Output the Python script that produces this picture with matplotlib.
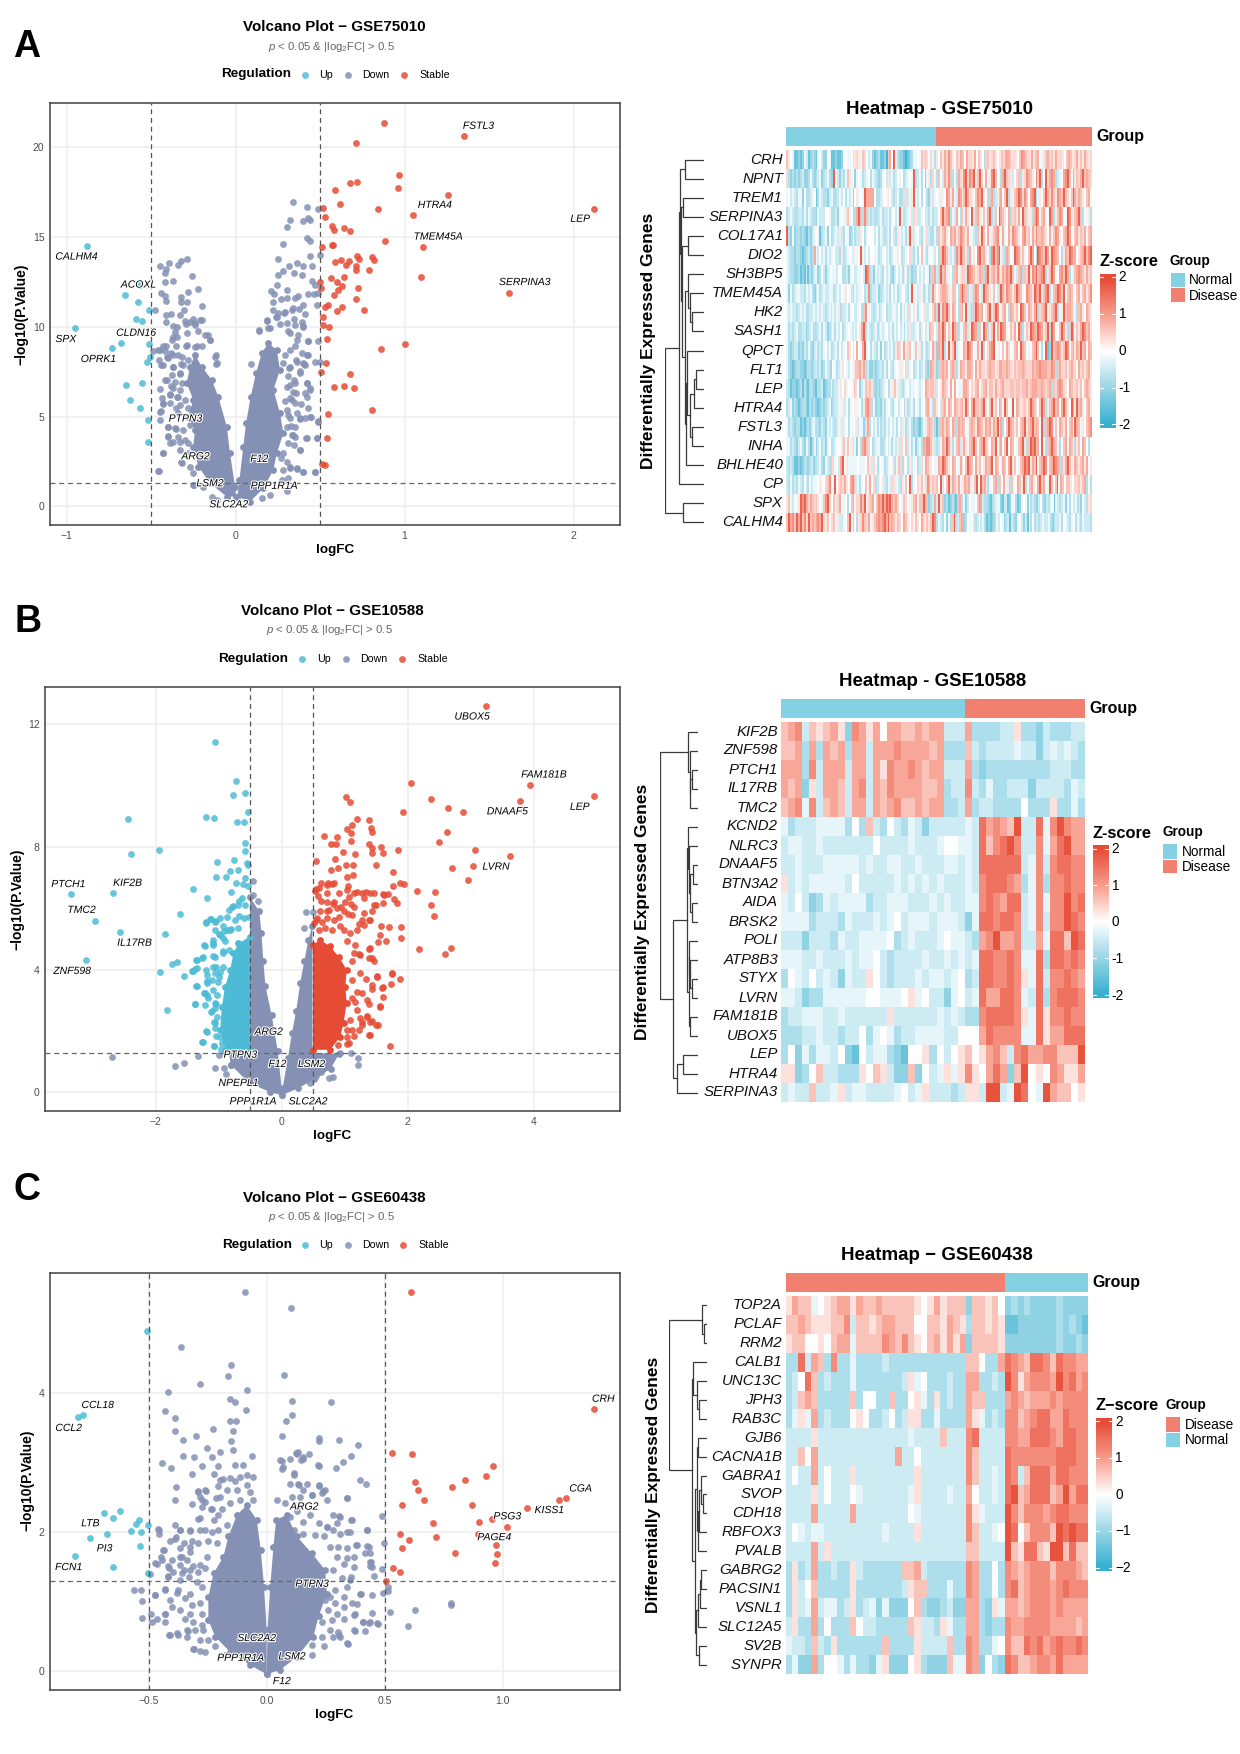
import numpy as np
import matplotlib
matplotlib.use("Agg")
import matplotlib.pyplot as plt
from matplotlib.colors import LinearSegmentedColormap, Normalize
from matplotlib.patches import Rectangle
import matplotlib.patheffects as pe

plt.rcParams['font.family'] = ['Liberation Sans', 'DejaVu Sans']
plt.rcParams['mathtext.fontset'] = 'custom'
plt.rcParams['mathtext.rm'] = 'Liberation Sans'
plt.rcParams['mathtext.it'] = 'Liberation Sans:italic'
plt.rcParams['mathtext.bf'] = 'Liberation Sans:bold'

W, H = 1240, 1754
UP_C, DOWN_C, STABLE_C = '#4DBBD5', '#8491B4', '#E64B35'
NORMAL_C, DISEASE_C = '#84D1E3', '#F18071'
REG_NAMES = ['Up', 'Down', 'Stable']

# ---------- Volcano A ----------
A_STABLE = [(.88,21.35),(1.35,20.6),(.71,20.2),(.97,18.45),(.72,18.05),(.68,18.0),(.96,17.7),(.59,17.6),(1.26,17.35),(.62,16.8),(.52,16.6),(.84,16.55),(2.12,16.55),(1.05,16.2),(.53,16.1),(.57,15.6),(.585,15.4),(.64,15.5),(.68,15.3),(.885,14.75),(.57,14.55),(.575,14.55),(.51,14.45),(1.11,14.45),(.72,13.95),(.73,13.75),(.81,13.85),(.82,13.7),(.59,13.6),(.625,13.7),(.67,13.65),(.655,13.45),(.71,13.4),(.71,13.15),(.79,13.15),(.565,12.7),(.64,12.75),(1.10,12.75),(.50,12.5),(.60,12.5),(.505,12.15),(.63,12.25),(.605,12.05),(.725,12.15),(1.62,11.9),(.585,11.75),(.71,11.55),(.53,11.1),(.545,11.2),(.63,11.1),(.60,10.85),(.76,10.9),(.52,10.55),(.515,10.1),(.555,10.0),(.54,9.3),(1.0,9.05),(.86,8.75),(.535,8.0),(.505,7.5),(.68,7.35),(.58,6.65),(.64,6.7),(.70,6.6),(.805,5.35),(.545,5.15),(.54,3.8),(.51,2.35),(.53,2.3)]
A_UP = [(-.88,14.5),(-.655,11.75),(-.575,11.4),(-.565,12.3),(-.515,10.9),(-.59,10.4),(-.555,10.3),(-.95,9.9),(-.675,9.1),(-.73,8.8),(-.51,9.05),(-.505,8.3),(-.525,8.05),(-.65,6.75),(-.555,6.85),(-.625,5.9),(-.565,5.45),(-.52,4.8),(-.52,3.6)]
A_DOWN = [(-.447,13.4),(-.394,13.55),(-.34,13.45),(-.325,13.65),(-.29,13.75),(-.26,12.8),(-.415,13.0),(-.41,13.2),(-.42,12.5),(-.37,12.55),(-.22,12.1),(-.28,11.95),(-.44,11.9),(-.415,11.7),(-.41,11.45),(-.325,11.65),(-.325,11.35),(-.29,11.4),(-.2,11.15),(-.305,10.95),(-.475,10.95),(-.41,10.65),(-.38,10.7),(-.33,10.65),(-.25,10.45),(-.21,10.35),(-.41,10.25),(-.37,10.05),(-.345,10),(-.295,10.15),(-.27,10.25),(-.24,10.1),(-.36,9.7),(-.37,9.45),(-.285,9.65),(-.22,9.75),(-.18,9.55),(-.15,9.25),(-.41,8.95),(-.355,8.95),(-.295,8.95),(-.24,8.85),(-.2,8.95),(-.45,8.7),(-.415,8.65),(-.49,8.65),(-.38,8.55),(-.34,8.45),(-.455,8.15),(-.40,8.25),(-.115,8.45),(-.115,7.95),(-.44,7.85),(-.37,7.75),(-.32,7.95),(-.415,7.05),(-.33,7.35),(-.45,6.55),(-.38,6.7),(-.39,6.25),(-.43,5.7),(-.345,6.1),(-.44,5.3),(-.355,5.5),(-.45,4.8),(-.40,4.4),(-.35,4.3),(-.40,3.9),(-.39,3.55),(-.43,3.0),(-.33,3.6),(-.455,2.0),(-.32,2.45),(-.245,1.2),
(.34,16.95),(.42,16.65),(.49,16.55),(.325,15.95),(.40,15.85),(.43,16.05),(.44,15.95),(.305,15.55),(.42,14.95),(.44,14.75),(.28,14.6),(.44,13.95),(.50,14.0),(.25,13.75),(.315,13.4),(.365,13.55),(.40,13.35),(.45,13.4),(.28,13.1),(.345,13),(.395,12.9),(.25,12.85),(.245,12.3),(.455,12.55),(.47,12.3),(.21,12.0),(.305,12.05),(.23,11.8),(.37,11.7),(.43,11.8),(.465,11.8),(.485,11.9),(.22,11.35),(.27,11.55),(.305,11.6),(.35,11.6),(.40,11.2),(.48,11.2),(.22,10.95),(.335,10.95),(.375,11.0),(.41,10.7),(.25,10.75),(.285,10.75),(.24,10.55),(.185,10.3),(.345,10.45),(.395,10.25),(.265,10.15),(.40,10),(.19,9.95),(.14,9.75),(.31,9.75),(.37,9.55),(.43,9.2),(.485,9.2),(.35,8.95),(.43,8.45),(.405,7.95),(.5,8.05),(.09,7.95),(.36,8.15),(.38,7.45),(.315,7.7),(.345,7.05),(.425,6.85),(.44,6.5),(.32,6.75),(.355,6.3),(.42,6.1),(.385,5.7),(.335,5.9),(.43,5.5),(.31,5.1),(.445,5),(.38,4.85),(.485,4.75),(.33,4.5),(.35,4.4),(.335,3.95),(.415,3.8),(.48,3.8),(.345,3.4),(.38,3.15),(.27,2.7),(.32,2.2),(.365,2.1),(.40,1.9),(.47,1.9),(.31,1.6),(.305,.85)]
A_FRINGE = [(-.457,8.71),(-.427,8.9),(-.378,9.27),(-.348,9.45),(-.299,10.29),(-.24,10.2),(-.2,10.38),(-.161,9.55),(-.151,9.27),(-.289,8.99),(-.23,8.9),(-.368,8.43),(-.319,8.34),(-.407,8.34),(-.427,7.88),(-.368,7.78),(-.309,7.88),(-.279,8.15),(-.121,8.34),(-.111,7.97),(-.378,7.32),(-.329,7.41),(-.407,7.04),(-.358,6.95),(-.319,6.86),(-.368,6.58),(-.329,6.48),(-.388,6.21),(-.338,6.11),(-.437,6.02),(-.299,5.93),(-.388,5.74),(-.329,5.65),(-.431,5.74),(-.447,5.28),(-.279,5.46),(-.338,5.19),(-.397,4.44),(-.358,4.35),(-.309,4.26),(-.269,4.54),(-.338,3.89),(-.299,3.7),(-.397,3.89),(-.368,3.61),(-.279,3.52),(-.427,3.0),(-.329,3.14),(-.279,2.96),(-.319,2.4),(-.269,2.22),(-.457,2.0),(-.249,1.85),(-.249,1.2),(-.19,1.1),(-.141,.55),(-.107,.37),
(.184,10.38),(.141,9.79),(.204,9.92),(.244,10.56),(.293,10.84),(.342,11.03),(.303,10.2),(.352,10.1),(.401,10.01),(.322,9.64),(.362,9.27),(.431,9.18),(.391,8.53),(.421,8.43),(.322,8.71),(.293,8.43),(.362,8.06),(.401,7.97),(.283,7.97),(.322,7.78),(.411,7.88),(.47,8.06),(.312,7.23),(.382,7.51),(.352,6.86),(.421,6.86),(.441,6.58),(.303,6.67),(.342,6.39),(.411,6.3),(.322,6.02),(.293,5.84),(.352,5.74),(.303,5.37),(.362,5.19),(.411,4.94),(.441,5.0),(.382,4.91),(.49,4.72),(.322,4.91),(.303,4.44),(.342,3.98),(.352,3.89),(.421,3.79),(.48,3.79),(.313,3.52),(.382,3.14),(.283,2.96),(.303,2.5),(.322,2.12),(.362,2.12),(.401,1.94),(.47,1.94),(.283,2.03),(.273,1.47),(.204,.64),(.155,.46)]
A_DENSE = [
 [(-.24,8.43),(-.2,7.78),(-.141,7.04),(-.102,6.11),(-.052,4.44),(-.033,2.96),(-.003,1.1),(.003,.55),(-.052,.55),(-.151,1.29),(-.22,2.22),(-.25,3.33),(-.24,4.26),(-.279,5.0),(-.25,5.93),(-.289,6.86),(-.269,7.78)],
 [(.011,.55),(.023,1.47),(.046,3.33),(.062,4.63),(.09,6.11),(.121,7.41),(.155,8.53),(.194,9.08),(.244,8.71),(.263,7.6),(.224,6.49),(.263,5.19),(.283,4.07),(.244,2.96),(.224,2.03),(.165,1.01),(.086,.27)]]
A_LABELS = [('CALHM4',-.942,13.9),('ACOXL',-.575,12.34),('SPX',-1.005,9.31),('CLDN16',-.589,9.66),('OPRK1',-.812,8.2),('PTPN3',-.297,4.89),('ARG2',-.237,2.79),('LSM2',-.152,1.29),('SLC2A2',-.041,.12),('PPP1R1A',.227,1.15),('F12',.14,2.65),('FSTL3',1.437,21.17),('HTRA4',1.179,16.77),('LEP',2.039,16.0),('TMEM45A',1.198,15.01),('SERPINA3',1.71,12.48)]

# ---------- Volcano B ----------
B_STABLE = [(3.24,12.6),(4.95,9.66),(3.94,10.02),(3.79,9.5),(2.37,9.55),(2.05,10.08),(1.02,9.62),(1.08,9.48),(2.64,9.27),(2.87,9.14),(1.93,9.15),(1.2,8.9),(1.38,8.88),(1.12,8.72),(1.03,8.6),(1.41,8.62),(1.43,8.5),(1.10,8.46),(.875,8.32),(.67,8.37),(2.62,8.49),(2.5,8.15),(.785,8.09),(.86,8.11),(1.1,8.2),(1.39,8.09),(1.57,8.0),(1.44,7.97),(1.44,7.82),(1.85,7.9),(1.61,7.8),(3.06,7.89),(.97,7.85),(1.17,7.78),(.84,7.62),(3.63,7.69),(.54,7.55),(1.02,7.41),(1.13,7.41),(1.49,7.4),(3.04,7.38),(.895,7.32),(.785,7.24),(2.71,7.3),(1.77,7.2),(1.04,7.03),(1.13,7.09),(2.95,6.91),(1.88,6.81),(1.945,6.78),(.73,6.83),(.62,6.81),(.79,6.78),(1.76,6.72),(1.05,6.72),(2.15,6.58),(2.43,6.52),(1.2,6.53),(1.34,6.54),(1.46,6.51),(1.61,6.46),(1.69,6.48),(1.07,6.37),(.55,6.62),(.71,6.51),(.57,6.39),(1.78,6.31),(1.83,6.16),(2.37,6.12),(1.49,6.11),(1.61,6.18),(1.10,6.13),(.62,6.25),(.81,6.13),(.94,6.04),(1.44,5.9),(1.30,5.84),(1.05,5.81),(2.41,5.76),(.71,5.9),(.55,5.61),(.91,5.73),(1.39,5.61),(1.23,5.49),(1.57,5.44),(1.71,5.38),(1.89,5.4),(1.89,5.05),(1.56,5.14),(1.52,4.91),(1.65,4.94),(1.39,4.68),(2.18,4.68),(2.68,4.71),(2.59,4.5),(1.23,4.5),(1.43,4.39),(1.47,4.27),(1.75,3.87),(1.87,3.71),(1.51,3.75),(1.73,3.54),(1.61,3.43),(1.43,3.36),(1.33,3.69),(1.60,3.11),(1.56,2.81),(1.39,2.88),(1.35,2.49),(1.43,2.32),(1.52,2.21),(1.28,2.29),(1.39,1.87),(1.15,1.85),(1.72,1.52),(1.04,1.57),
(.504,5.52),(.557,5.68),(.637,5.57),(.716,5.68),(.822,5.63),(.928,5.41),(.981,5.3),(.584,5.3),(.69,5.35),(.796,5.3),(.61,5.9),(.743,5.95),(.875,6.0),(.981,5.9),(1.113,5.79),(1.272,5.63),(1.405,5.63),(1.3,5.46),(1.193,5.3),(1.087,5.19),(1.034,4.92),(1.166,4.81),(1.405,4.7),(1.14,4.54),(1.246,4.48),(1.378,4.37),(1.114,4.27),(1.246,3.89),(1.114,3.67),(1.51,3.78),(1.75,3.89),(1.436,3.5),(1.595,3.4),(1.193,3.29),(1.272,3.23),(1.114,3.07),(1.352,3.02),(1.564,2.8),(1.166,2.96),(1.193,2.69),(1.352,2.47),(1.246,2.42),(1.405,2.31),(1.5,2.2),(1.087,2.36),(1.272,2.2),(1.114,2.04),(1.22,2.04),(1.394,1.88),(1.034,1.82),(1.06,1.6),(.9,1.55),(1.034,2.04),(.53,6.55),(.584,6.66),(.716,6.77),(.822,6.82),(.901,6.49),(1.034,6.6),(1.14,6.49),(1.272,6.49),(1.405,6.49),(.716,6.22),(.822,6.22),(1.008,6.22),(1.14,6.06),(1.3,6.33),(1.458,6.11),(1.617,6.44)]
B_UP = [(-1.06,11.41),(-.73,10.15),(-.78,9.7),(-.59,9.76),(-.53,9.15),(-1.21,8.99),(-1.07,8.93),(-2.44,8.91),(-.71,8.8),(-.6,8.81),(-.58,8.14),(-.58,7.88),(-1.95,7.9),(-2.4,7.77),(-1.03,7.52),(-.76,7.57),(-.55,7.47),(-.53,7.4),(-.82,7.23),(-.69,7.25),(-1.04,7.03),(-.89,7.03),(-.58,7.0),(-.73,6.81),(-.62,6.8),(-.54,6.74),(-1.41,6.64),(-.8,6.54),(-3.34,6.46),(-2.68,6.51),(-1.19,6.34),(-.68,6.25),(-.78,6.08),(-.84,5.96),(-1.62,5.8),(-.68,5.76),(-1.13,5.65),(-1.2,5.53),(-2.97,5.6),(-1.04,5.58),(-2.57,5.23),(-1.85,5.15),(-.91,5.26),(-.81,5.32),(-1.0,5.15),(-1.23,4.8),(-1.1,4.86),(-.94,5.03),(-3.11,4.32),(-1.75,4.19),(-1.66,4.25),(-1.36,4.33),(-1.26,4.39),(-1.1,4.45),(-.94,4.62),(-1.38,4.02),(-1.41,3.97),(-1.94,3.93),(-1.56,3.78),(-1.2,3.98),(-1.04,4.1),(-1.36,3.48),(-1.18,3.63),(-1.0,3.75),(-1.23,3.25),(-1.19,3.17),(-1.38,2.88),(-1.04,2.88),(-1.82,2.68),(-1.13,2.62),(-1.06,2.76),(-1.07,2.29),(-1.2,1.99),(-1.04,1.85),(-1.26,1.66),(-1.07,1.5),(-.97,1.42),
(-.634,6.33),(-.793,6.06),(-.873,5.73),(-1.138,5.65),(-1.201,5.57),(-1.058,5.57),(-.979,5.68),(-.74,5.63),(-.608,5.68),(-.528,5.73),(-.82,5.3),(-.688,5.35),(-1.058,5.3),(-.979,5.14),(-1.085,4.97),(-1.217,4.76),(-1.085,4.81),(-.899,4.92),(-1.244,4.43),(-1.058,4.43),(-1.349,4.32),(-.926,4.54),(-.846,4.65),(-1.085,4.1),(-1.349,4.05),(-1.427,3.97),(-.926,4.1),(-1.191,3.83),(-1.058,3.89),(-.979,3.94),(-1.111,3.67),(-1.191,3.56),(-1.005,3.61),(-1.349,3.47),(-1.085,3.34),(-1.217,3.23),(-1.032,3.18),(-1.164,3.07),(-1.217,2.85),(-1.376,2.89),(-1.111,2.64),(-1.058,2.91),(-1.032,2.47),(-1.058,2.26),(-1.058,2.09),(-1.191,1.98),(-.979,1.82),(-1.254,1.66),(-1.074,1.52),(-.952,1.6),(-.688,6.11),(-.581,6.11),(-.873,5.3),(-.926,5.41)]
B_DOWN = [(-2.69,1.15),(-1.69,.87),(-1.56,.95),(-1.33,1.19),(-1.06,.8),(-.99,1.22),(-.91,.81),(-.89,.6),(-.81,.9),(-.45,6.89),(-.45,6.45),(-.38,6.23),(.38,5.88),(.49,5.87),(.36,5.36),(1.10,1.28),(.92,1.28),(1.21,1.12),(1.21,.9),(.81,.51),(.75,.47),(.63,.66),(.55,.55),(.45,.31)]
B_UP_DENSE = [[(-.502,1.39),(-.899,1.39),(-.979,2.04),(-.952,2.8),(-.899,3.45),(-.82,3.99),(-.767,4.54),(-.688,4.86),(-.502,5.08)]]
B_STABLE_DENSE = [[(.494,1.39),(.494,4.81),(.61,4.97),(.769,4.76),(.901,4.43),(1.03,4.0),(1.01,3.45),(1.03,2.91),(.981,2.26),(.928,1.82),(.769,1.39)]]
B_DENSE = [
 [(-.506,6.37),(-.357,5.9),(-.324,5.2),(-.292,4.27),(-.26,3.46),(-.162,2.53),(-.065,1.36),(0,.08),(0,-.09),(-.195,.02),(-.519,.31),(-.81,.9),(-.843,1.36),(-.506,1.36)],
 [(.013,.14),(.097,1.13),(.162,1.94),(.227,2.64),(.292,3.57),(.357,4.27),(.422,4.97),(.486,5.44),(.486,1.3),(.908,1.25),(.778,.78),(.519,.43),(.259,.14),(0,-.09)]]
B_LABELS = [('UBOX5',3.02,12.25),('FAM181B',4.16,10.36),('DNAAF5',3.58,9.16),('LEP',4.73,9.31),('LVRN',3.4,7.36),('PTCH1',-3.39,6.79),('KIF2B',-2.45,6.83),('TMC2',-3.18,5.95),('IL17RB',-2.34,4.88),('ZNF598',-3.33,3.96),('ARG2',-.21,1.98),('PTPN3',-.66,1.23),('F12',-.07,.93),('LSM2',.47,.93),('NPEPL1',-.69,.31),('PPP1R1A',-.46,-.29),('SLC2A2',.415,-.29)]

# ---------- Volcano C ----------
C_STABLE = [(.61,5.45),(.53,3.14),(.615,3.12),(.96,2.95),(.93,2.81),(.84,2.75),(.63,2.73),(.785,2.65),(.64,2.61),(.668,2.47),(1.237,2.46),(1.27,2.49),(1.386,3.77),(.575,2.39),(.872,2.39),(1.104,2.35),(.953,2.19),(.9,2.15),(.706,2.13),(1.02,2.08),(.565,1.97),(.716,1.93),(.604,1.89),(.895,1.97),(.97,1.82),(.575,1.78),(.798,1.7),(.978,1.69),(.968,1.56),(.535,1.49),(.564,1.43),(.507,1.3)]
C_UP = [(-.798,3.66),(-.777,3.68),(-.509,4.89),(-.69,2.28),(-.621,2.31),(-.649,2.2),(-.542,2.18),(-.555,2.12),(-.503,2.11),(-.574,2.02),(-.675,1.98),(-.533,2.01),(-.747,1.92),(-.538,1.8),(-.81,1.66),(-.649,1.5),(-.503,1.42)]
C_DOWN = [(-.093,5.46),(.102,5.22),(-.363,4.66),(-.152,4.41),(.074,4.26),(-.163,4.25),(-.282,4.13),(-.083,4.04),(-.417,4.02),(-.157,3.91),(-.135,3.87),(.109,3.89),(.273,3.87),(-.087,3.76),(-.429,3.74),(.106,3.69),(-.388,3.64),(-.154,3.6),(-.13,3.6),(.08,3.6),(-.228,3.48),(-.389,3.45),(-.144,3.45),(-.298,3.38),(.066,3.38),(-.353,3.33),(.22,3.35),(.22,3.32),(.306,3.33),(-.152,3.32),(.386,3.26),(-.253,3.21),(-.144,3.19),(.125,3.14),(.133,3.15),(.18,3.13),(-.196,3.15),(.358,3.1),(-.353,3.1),(-.062,3.1),(.154,3.09),(-.23,3.08),(-.306,3.08),(.144,3.04),(.324,3.01),(-.443,2.99),(-.135,2.97),(-.1,2.97),(-.273,2.96),(-.204,2.95),(-.405,2.92),(.218,2.97),(.294,2.93),(.099,3.05),(.067,3.02),(.064,2.91),(-.315,2.84),(-.225,2.84),(.116,2.83),(.396,2.75),(.422,2.69),(-.382,2.65),(-.187,2.77),(-.135,2.74),(-.083,2.82),(-.057,2.8),(.133,2.69),(.22,2.66),(.237,2.59),(-.29,2.59),(-.256,2.59),(-.389,2.46),(.339,2.5),(-.273,2.46),(-.317,2.41),(.194,2.54),(.488,2.23),(-.234,2.33),(.306,2.24),(.358,2.18),(-.282,2.2),(-.389,2.11),(-.462,2.05),(-.458,1.97),(-.325,2.02),(.427,2.04),(.254,2.07),(.298,2.13),(.341,2.01),(-.369,2.04),(-.386,1.93),(.497,1.85),(.379,1.82),(.427,1.8),(-.369,1.77),(-.433,1.74),(-.325,1.71),(.436,1.7),(-.446,1.64),(-.369,1.64),(-.472,1.56),(.441,1.58),(.436,1.52),(-.412,1.48),(-.351,1.46),(.49,1.47),(-.495,1.4),(-.42,1.37),(.453,1.37),(.358,1.36),(-.564,1.17),(-.531,1.17),(-.472,1.1),(-.429,1.18),(-.529,1.01),(-.381,1.13),(.514,1.21),(.493,1.13),(.514,1.15),(.401,1.11),(.384,.97),(.448,1.1),(.78,.99),(.78,.955),(.63,.88),(.522,.85),(.446,.84),(-.528,.765),(-.49,.82),(-.486,.71),(-.464,.75),(-.431,.83),(-.431,.71),(-.412,.53),(-.377,.53),(-.334,.585),(-.308,.32),(-.282,.30),(.375,.82),(.407,.71),(.434,.69),(.471,.68),(.599,.66),(.375,.585),(.415,.585),(.341,.405),(.194,.235),(.306,.53)]
C_FRINGE = [(-.197,2.75),(-.155,2.78),(-.204,2.66),(-.112,2.8),(-.084,2.68),(-.289,2.58),(-.26,2.61),(-.282,2.51),(-.214,2.49),(-.169,2.61),(-.126,2.61),(-.07,2.58),(-.26,2.44),(-.197,2.51),(-.155,2.42),(-.275,2.37),(-.232,2.34),(-.19,2.34),(-.112,2.46),(-.056,2.46),(-.204,2.25),(-.225,2.18),(-.289,2.19),(-.367,2.04),(-.324,2.04),(-.282,2.04),(-.26,2.03),(-.232,2.01),(-.204,2.03),(-.169,2.1),(-.458,2.04),(-.388,1.91),(-.409,1.87),(-.352,1.84),(-.317,1.87),(-.289,1.84),(-.247,1.87),(-.211,1.84),(-.324,1.79),(-.437,1.74),(-.402,1.6),(-.444,1.6),(-.36,1.65),(-.338,1.6),(-.254,1.65),(-.465,1.55),(-.416,1.51),(-.367,1.53),(-.31,1.51),(-.282,1.53),(-.395,1.43),(-.36,1.41),(-.324,1.46),(-.289,1.43),(-.26,1.48),(-.416,1.36),(-.367,1.31),(-.331,1.36),(-.296,1.29),(-.473,1.1),(-.43,1.17),(-.374,1.17),(-.324,1.12),(-.275,1.22),(-.409,1.03),(-.345,1.05),(-.317,.95),(-.282,.98),(-.402,.93),(-.367,.88),(-.324,.83),(-.275,.83),(-.43,.83),(-.345,.76),(-.31,.71),(-.275,.67),(-.338,.6),(-.303,.6),(-.268,.6),(-.409,.52),(-.381,.55),(-.338,.5),(-.282,.45),(-.247,.45),(-.31,.32),(-.261,.28),(-.218,.36),(-.176,.24),
(.057,3.04),(.071,2.94),(.114,2.85),(.128,3.13),(.156,3.06),(.22,2.96),(.097,2.7),(.135,2.68),(.17,2.7),(.22,2.68),(.248,2.61),(.156,2.61),(.191,2.54),(.234,2.56),(.255,2.46),(.107,2.51),(.142,2.51),(.043,2.46),(.078,2.42),(.34,2.49),(.128,2.3),(.184,2.25),(.1,2.22),(.283,2.25),(.312,2.22),(.361,2.18),(.156,2.15),(.22,2.13),(.255,2.08),(.283,2.03),(.312,1.98),(.354,2.01),(.427,2.04),(.114,2.03),(.156,1.98),(.206,1.96),(.241,1.94),(.269,1.79),(.304,1.79),(.34,1.77),(.382,1.82),(.432,1.79),(.418,1.7),(.297,1.65),(.34,1.63),(.368,1.65),(.439,1.58),(.446,1.5),(.326,1.55),(.368,1.5),(.283,1.46),(.319,1.34),(.354,1.31),(.34,1.22),(.29,1.17),(.269,1.07),(.326,1.07),(.396,1.12),(.248,1.03),(.29,.98),(.326,.93),(.361,.98),(.262,.88),(.297,.83),(.368,.81),(.41,.71),(.234,.71),(.276,.74),(.326,.76),(.269,.6),(.304,.57),(.371,.6),(.439,.71),(.467,.69),(.283,.5),(.312,.5),(.234,.5),(.191,.38),(.241,.36),(.343,.4)]
C_DENSE = [
 [(0,.6),(-.011,1.22),(-.025,1.75),(-.042,2.18),(-.084,2.39),(-.126,2.25),(-.162,1.94),(-.183,1.65),(-.225,1.41),(-.247,1.07),(-.247,.74),(-.218,.5),(-.155,.28),(-.07,.09),(0,-.04)],
 [(.004,.6),(.015,1.22),(.029,1.79),(.04,2.18),(.085,2.25),(.128,1.94),(.191,1.7),(.248,1.46),(.255,1.12),(.22,.79),(.198,.5),(.128,.21),(.057,.02),(0,-.04)]]
C_LABELS = [('CRH',1.426,3.92),('CGA',1.33,2.63),('KISS1',1.197,2.32),('PSG3',1.019,2.23),('PAGE4',.964,1.93),('CCL18',-.716,3.83),('CCL2',-.839,3.5),('LTB',-.747,2.13),('PI3',-.687,1.77),('FCN1',-.839,1.5),('ARG2',.159,2.37),('PTPN3',.192,1.26),('SLC2A2',-.043,.48),('PPP1R1A',-.111,.195),('LSM2',.107,.216),('F12',.064,-.139)]

# ---------- Heatmaps: one letter per cell, the level tables give the z-score ----------
LEVELS = dict(zip('abcdefghijklm', [-2,-1.5,-1.1,-.8,-.5,-.25,0,.3,.6,.9,1.2,1.5,1.9]))
A_LEVELS = dict(zip('abcdefghijklm', [-1.9,-1.45,-1.05,-.75,-.5,-.2,0,.25,.42,.6,.85,1.15,1.7]))

A_GENES = ['CRH','NPNT','TREM1','SERPINA3','COL17A1','DIO2','SH3BP5','TMEM45A','HK2','SASH1','QPCT','FLT1','LEP','HTRA4','FSTL3','INHA','BHLHE40','CP','SPX','CALHM4']
A_COUNTS = (77, 80)
A_NORMAL = ["jhgfbbcbcfebcdcbfgeccgfbbcbbcggffgihihfjigefcbcdbbcajkgmfdccbabcdffgfjijigifd",
"idcdcdcdeccdfdcdefcdefdcmfecedfjhfgcfgfdefgdfedcdfgehefdegfgdefgfmdefdgkfhdif",
"fgefedffcgddefgbdfeddcefddefegdfefcghfgfmkkkkgddefgfhgedefddeiefhmfegdgfdchef",
"defeddeedfdfeddcfeeeggfddecfgfhjfgjdkmjdljededdefdeefdfgefmfdefgeiheefgeedfde",
"mdcfcddcdcbdcefgfbdefcgdefehedgfcdgdeehgdfgggegdfedefdgedhfefdhmhefgedfhieddf",
"feddcddcbcdecdkfegefdfefgeedhdefgfeffgmfegeggffdefgefdegfhgdefgiedfdgjfhdfgfe",
"feddccdbcbebdcefcdgecefgffeggddecfgeeffgemldecfefedgefdcegefdhfdecddgefegfbdjk",
"fcfdeffeedfefdcefdefeeffdefegfhgfedfeffgdeldeefcdefefdgefdefgedfmffehfdefdeli",
"fefeedefefddeefefefedefifefhdeefdfgeefgdjlgfedefdefgdeeffegdfefieghfdfgheefgik",
"fdedefddeecdefddefdfecdefdfegdefgfefeghkmdfedefdefefgefdfegefdfeheefgdhgefkjig",
"fdcdeecdcedfdcefdedfgefdefdgefgjhgegkgfkmfgdfedfcgdefefdhjigkhijgfjfhdfedegki",
"fdcbcddccbcddcdedecdfedcgfdefhgfegfhjjkikdeccdcdeedfdgedfgfhfgiefgdefdefdcjkji",
"edbccbcdbdcbddcbddebcddfdeefhgifggfjigcefjijhdcdcdefgdfhjfhedefgeffgfefgkjijji",
"defcdcbcddcbdcdcbcdcdefcdeeffhegdfghffgdhkljdfcddcedfgedfgefgdhdefdgfdfgjkifdj",
"fdedcddbcbcdcefddcedcfegedefhefgdgfgheffcikdgefdfdedfegefdgehfdefdcdcbdfhjkjid",
"ffdedcefdcfdbdfcefdecfgdefgghjfjfhefcgdkljigdeffddegefdfeheigjefdfcefdkjlljhe",
"ededbbcbcddcdecdefdcfedjifgekmghfffffgfffgjheigdfgfdefghdfjidfgdhefgdeifkjihgf",
"edfdedfedgedfeffghfgijlhfmgijikhgkljefdfgjfkgidefghedfeihfedhfjgmdfgihjfilkhji",
"hjfegfhmlmkikjijhgfjlmigjhikgfgdgjkfiiljmfijkgjlkmkmlmkjkigfjigfhjkfjjmkjcdek",
"jmkljmkmjlimjkjklkmihjgijfheefgjmfjgdhiljikfhjklklmkmjkjhjigkjhgifjhgkigjhjml"]
A_DISEASE = ["hgjhkiljhgjikjgkiihkgjhgdijhijhghjikkjhihgjlkjihkhjkgfhjkijhkhiihgjkjhikhjhkihi",
"djgekiljdfdkihlmilkmhjmigkfhlmjgfdkmjihegijdhilkjhgljmdgmiklkdefgklmjgkhjikmjkji",
"gfhfglkhkfelkhjmkihgjlkmhgdjkdehjkgjmdhfjkmliljgklmdfhgjmkiljhlkjmjifjmkikjhgjkf",
"egjmjkldfekgdjfkhgmejkhfjfkmdejgmkjhgkdijhkfmjifhdkmlgjkfgmkdhjlkgfmlhfjkmjdgfhd",
"djhjkhgkjkhjlkjhkgfedjhmjgkfhjklhgkfgkhlkjhgklijfkiljjkjhgkfjlkhgjkmkfgjkhjikfjk",
"gdjmljhefdljmkjhdkfhglmjkhgdlmjlmfedkjgfmlkhjfgjmkgdmlkjmkhmlkjgdhkjmldkghjkmjlm",
"edmjkhfgdjkfhjiemlkjhikjdkmhjkiljhkjlkmjfejkdjimhlkmjklmdhjmkfgkljmkdfhjklkjhkij",
"ghjkkjhfjjgdkmkjdhejlkfemkjhfjgedmkilkjhjmkjfglkjhmlkmhjlmdfjkmljmgjkjhgjkfjkhjl",
"dmelkmjfkjgdjkfmhedjmljkghkmhjmlgfjkgdkjhjgmljfkjhkmdijkmfhjkmdfhmjkkjhfdjkhgkjh",
"ekjmkgjhmkjdfgjkehmlkdjgmkdhjmgkhmlkfgjhkgmkdfjhmlkjmlkhjmdmkfgjmkhdjmkfjhkmljkh",
"ckjmdfmhjmefggkjmljgfkhmdgiklmgfhgjgkigfjkgmkjgfgjkmjgdgmbcmjklkhjmlfjkhkjmjkgkj",
"cdjkjkgjkjdfkjjhkkjgkhkiihjkjjhikkjjkjihjijjkjiiikjkklkkkjjlkdjkiijhjkiigkijhjkh",
"eghkjifkgkgffhkkjgihjkgijkhjjhkihjkiiijjijjijjkijkkkjjkjijkdjiklkihgkjiijhjgjkjh",
"hgejkfkjgkjijkhmjgkmjjikmhgjmhjgkjfmjgfmgkjhijhjmkjhgjmkdhjkmjkgkmjhgmkhmjkhgjkh",
"bdjkikjgkjdkjkjgfjkjhlkjhkjkhkjmhkdgjmkjhjgjkmhjkmjkjgmdjkmlfjgkjhkgjkgmkjfhgjkl",
"defkjmkhdfjkehkhfjkmjgjkmjhgkjmgjkgjmgkjgfjkmhdjmlmjkgmfdjkmkjfdgjkfkjfdhjgkjgdg",
"fkjmljhgkjgfkhgjmkjgkhjghkjkmgkjgfkjgkmhjgfjkmlmhkjmgjkmlgjkmlkdjhkmjhgkjhjkhkgh",
"jgmegjmhkjhkfhkjkhfjmgmjkhdfgjkdjgkfhdjfgkjhmdfjkhgkmjkgfmjgjmfkjgjjhgiijhjkdgd",
"emhjcdbcdcbjkdfcegffgjlkeddcbdeffcbeebcgfdbcfgfcfdedcegdcedfgbfedefcfdgefdecgedhi",
"dfedgcfdjmdejkcdgfgedegefdbcbcdfegfcdebedcfgecebfdgdedefeefdcdeefdgfedfgdfedfeeed"]

B_GENES = ['KIF2B','ZNF598','PTCH1','IL17RB','TMC2','KCND2','NLRC3','DNAAF5','BTN3A2','AIDA','BRSK2','POLI','ATP8B3','STYX','LVRN','FAM181B','UBOX5','LEP','HTRA4','SERPINA3']
B_COUNTS = (26, 17)
B_ROWS = ["ijkeihijhckjhjgjjiijijjeee jddddeehddcedddee",
"iijdjdjijdjjejjjkjjjjijddd iedeeeefeecefefed",
"jjjdkejjjejjejhkjjkjijjeee jdcdddddddddeeedd",
"jijchejjiejkejikjjjjiijdee kedfddeeeceeeedfe",
"ijkfkeijiejjejijkiijijjdde jdeeddddgdddhddfd",
"fdeeeffffdgdiedgedfeceeeee fe ljkjim eelfkmkjj",
"effeefeeeeeeegeeeefeeefggf fe liklmk eekfjlmjj",
"eefeeefffffefeeffeefeeeffe fe llllll efkekllkk",
"hefefffffegeeeeefefefefeee fe klllkj dfkdkklkk",
"fegecdfeffffdeefffeeefefee ff klkjll efkfkkmkl",
"ffffdeeedfeeefefgefffefffe cf llkllk efkekkmlk",
"eeeceeedfeeffffgdefeeefgff ed jkmjjk eejfllim l",
"fffeefeeefeffgedeeeefeefef ef llkklk ffldllklk",
"dgfegefecfeehgedeeefeffefg de llkklk hflekklkj",
"ffecddffffffggfffghfgeecfg ef ljjllk feldklllk",
"deefffeefeeeeeeheeeeeefefe dd kllllk hflhkklkk",
"dddeefeedeegdfgfdeeffffeeg gg jlkkkk fflhjjlll",
"dgcfdffegcbgeffdcbgghdgegh ig hjkiek ljjkkiiim",
"hhcdgieedddhgiheccicgefhfh kh gjljci mghgkjhhj",
"efeeieefheffeeeefgefheeede hh emmefm lgfmjiigh"]

C_GENES = ['TOP2A','PCLAF','RRM2','CALB1','UNC13C','JPH3','RAB3C','GJB6','CACNA1B','GABRA1','SVOP','CDH18','RBFOX3','PVALB','GABRG2','PACSIN1','VSNL1','SLC12A5','SV2B','SYNPR']
C_COUNTS = (34, 13)
C_ROWS = ["hjiifghijjhjiijiiiiihghjhiiiciihig cdcdccccdcccc",
"iijihhhiikeiihijjiiiggiihjihdiihih bbccccccdcdcb",
"hiigghgijjfiiiikjikihgijhjhjciiiih ccccccccdccdc",
"ddlejidkddfddddedddddddddddd iigddj lkjillkilkkjj",
"deglidedddfdddddddehfgdddedd jjdded mkhjkkkjmkljk",
"deijidddddidggddiddghfdhdedd jiiddd jkjijjjkjkkkk",
"dfhfjdedddghgddegdehhddfdddd jhfded kkijklljjlkkk",
"eeeeheeeeeeeeeeeeeefeeeeieee kleeee kkjjlllkjllkk",
"eeigjeeeeeeeeeeeejeegeeeeeee kieeee lkkkkkkklllkk",
"egeejegeeeheeeeeeeeeheeeeeee kieefe lkeillljllkkk",
"eeeehegeeegfeeeeeeefheeeefee jgeefe lmijlllijmjll",
"eeeejeeeeejeeeeeeeegfeeeeeee khfeee mkikkkjkllkkk",
"egfeffeeeeeeeeefeeeeheeeeeee kieefg mlgikkkimlmll",
"eeeejeheeeeeeeeeeeeeeeeeeeee iieeee mihllihmmilii",
"dhdejddeddheddddddiijedddddd kjddgd kjijkkkikkkji",
"dhegidddddhdddddddehiidddfdd kjddgd klijkkkjklkkk",
"dhefjeffdehdefcfcccgidccdecc jjdchf jjijkkkjkjjjj",
"ehddjdgdddigeedddddiheedhfdd jjdcdd kjjkkkkjjjjij",
"feediedhdddddddiddddheeeeidd kjddfg kiilkljklkklk",
"dfccjdggfdfddcfhcccghdccciff kjcgdc lkiijkkjljjjj"]

DEND_A = (1.0,(.65,(.62,(.48,0,1),(.60,(.53,2,3),(.57,(.42,4,5),(.50,(.40,6,(.37,7,(.30,8,9))),(.45,(.43,10,(.35,(.25,(.20,11,12),13),(.30,14,15))),16))))),17),(.53,18,19))
DEND_B = (1.0,(.27,0,(.23,1,(.21,(.16,2,3),4))),(.65,(.30,(.28,5,(.24,6,(.21,(.13,7,8),(.16,9,10)))),(.24,(.24,11,(.21,12,(.18,13,14))),(.23,15,16))),(.55,(.40,17,18),19)))
DEND_C = (1.0,(.15,0,(.09,1,2)),(.40,(.37,3,(.26,4,(.22,5,6))),(.32,(.28,(.25,7,8),(.24,(.22,(.16,9,(.12,10,11)),12),13)),(.30,(.25,(.20,(.16,14,15),16),17),(.21,18,19)))))

CB_TICKS = [2, 1, 0, -1, -2]
cmap = LinearSegmentedColormap.from_list('z', ['#35B0CF', '#9AD6E6', '#FFFFFF', '#F79C8C', '#E64B35'])
norm = Normalize(-2, 2)

fig = plt.figure(figsize=(W/100, H/100), dpi=100, facecolor='white')
def pax(l, t, r, b, **kw):
    return fig.add_axes([l/W, 1-b/H, (r-l)/W, (b-t)/H], **kw)
ov = pax(0, 0, W, H, zorder=20)
ov.set_xlim(0, W); ov.set_ylim(H, 0); ov.axis('off'); ov.patch.set_alpha(0)

def arr(p):
    a = np.array(p, float); return a[:, 0], a[:, 1]

def volcano(rect, xlim, ylim, xt, yt, xtl, title, tpos, spos, leg, labels, xlab, ylab,
            down, up, stable, dense, updense=(), stdense=()):
    ax = pax(*rect)
    ax.set_xlim(*xlim); ax.set_ylim(*ylim)
    ax.set_xticks(xt); ax.set_xticklabels(xtl); ax.set_yticks(yt)
    ax.grid(True, color='#EDEDED', lw=1.1); ax.set_axisbelow(True)
    ax.tick_params(length=0, labelsize=7.5, labelcolor='#4D4D4D', pad=4)
    for s in ax.spines.values():
        s.set_color('#404040'); s.set_linewidth(1.1)
    kw = dict(s=24, linewidths=0, clip_on=True)
    for poly in dense:
        x, y = arr(poly)
        ax.fill(x, y, color=DOWN_C, lw=0, zorder=2)
        ax.scatter(x, y, color=DOWN_C, zorder=2, **kw)
    x, y = arr(down); ax.scatter(x, y, color=DOWN_C, alpha=.85, zorder=2, **kw)
    for poly in updense:
        x, y = arr(poly); ax.fill(x, y, color=UP_C, lw=0, zorder=3); ax.scatter(x, y, color=UP_C, zorder=3, **kw)
    for poly in stdense:
        x, y = arr(poly); ax.fill(x, y, color=STABLE_C, lw=0, zorder=3); ax.scatter(x, y, color=STABLE_C, zorder=3, **kw)
    x, y = arr(up); ax.scatter(x, y, color=UP_C, alpha=.85, zorder=3, **kw)
    x, y = arr(stable); ax.scatter(x, y, color=STABLE_C, alpha=.85, zorder=3, **kw)
    for v in (-.5, .5):
        ax.axvline(v, color='#555555', lw=.9, ls=(0, (4, 3)), zorder=4)
    ax.axhline(1.3, color='#666666', lw=.9, ls=(0, (4, 3)), zorder=4)
    for name, lx, ly in labels:
        ax.text(lx, ly, name, fontsize=7.5, style='italic', ha='center', va='center', zorder=6,
                path_effects=[pe.withStroke(linewidth=1.6, foreground='white')])
    ov.text(*tpos, title, fontsize=10.9, fontweight='bold', ha='center', va='center')
    ov.text(*spos, r'$\mathit{p}$ < 0.05 & |log$_{2}$FC| > 0.5', fontsize=8.2, color='#666666', ha='center', va='center')
    y0, rx, pts, txs = leg
    ov.text(rx, y0, 'Regulation', fontsize=9.7, fontweight='bold', ha='left', va='center')
    for px, tx, c, n in zip(pts, txs, [UP_C, DOWN_C, STABLE_C], REG_NAMES):
        ov.scatter([px], [y0], s=24, color=c, alpha=.85, linewidths=0)
        ov.text(tx, y0, n, fontsize=7.7, ha='left', va='center')
    ov.set_xlim(0, W); ov.set_ylim(H, 0)
    ov.text(*xlab, 'logFC', fontsize=9.7, fontweight='bold', ha='center', va='center')
    ov.text(*ylab, '\u2212log10(P.Value)', fontsize=10, fontweight='bold', ha='center', va='center', rotation=90)

def draw_tree(ax, node):
    if not isinstance(node, tuple):
        return 0.0, node + .5
    h, a, b = node
    ha, ya = draw_tree(ax, a); hb, yb = draw_tree(ax, b)
    ax.plot([ha, h, h, hb], [ya, ya, yb, yb], color='#3A3A3A', lw=.9, solid_joinstyle='miter')
    return h, (ya + yb) / 2

def cells(ax, rows, c0, c1, levels):
    for i, row in enumerate(rows):
        row = row.replace(' ', '')
        vals = [levels[ch] for ch in row]
        ax.pcolormesh(np.linspace(c0, c1, len(vals) + 1), [i, i + 1], [vals], cmap=cmap, norm=norm,
                      linewidth=0, antialiased=False, rasterized=True)

def heatmap(genes, sections, spans, levels, order, counts, body, annot, tree, dend, title, tpos, grp, lab_x, ylab,
            zt, bar, ticks_y, tick_x, lg_title, lg_boxes, lg_text, zname, minus):
    l, t, r, b = body
    ncol = sum(counts)
    ax = pax(l, t, r, b); ax.set_xlim(0, ncol); ax.set_ylim(len(genes), 0); ax.axis('off')
    for rows, (c0, c1) in zip(sections, spans):
        cells(ax, rows, c0, c1, levels)
    an = pax(l, annot[0], r, annot[1]); an.set_xlim(0, ncol); an.set_ylim(0, 1); an.axis('off')
    pos = 0
    for n, nm in zip(counts, order):
        an.barh(.5, n, left=pos, height=1, color=NORMAL_C if nm == 'Normal' else DISEASE_C, lw=0); pos += n
    d = pax(dend[0], t, dend[1], b); d.set_xlim(1.0, 0); d.set_ylim(len(genes), 0); d.axis('off')
    d.patch.set_alpha(0)
    draw_tree(d, tree)
    d.set_xlim(1.0, 0); d.set_ylim(len(genes), 0)
    rh = (b - t) / len(genes)
    for i, g in enumerate(genes):
        ov.text(lab_x, t + (i + .5) * rh, g, fontsize=10.8, style='italic', ha='right', va='center', color='#111111')
    ov.text(*tpos, title, fontsize=13.5, fontweight='bold', ha='center', va='center')
    ov.text(*grp, 'Group', fontsize=11.5, fontweight='bold', ha='left', va='center')
    ov.text(*ylab, 'Differentially Expressed Genes', fontsize=12.5, fontweight='bold', ha='center', va='center', rotation=90)
    ov.text(*zt, zname, fontsize=11.8, fontweight='bold', ha='left', va='center')
    cb = pax(*bar)
    cb.imshow(np.linspace(2.09, -2.09, 256)[:, None], cmap=cmap, norm=norm, aspect='auto', extent=[0, 1, -2.09, 2.09])
    cb.axis('off')
    for v, yy in zip(CB_TICKS, ticks_y):
        cb.plot([0, .2], [v, v], color='white', lw=.8)
        cb.plot([.8, 1], [v, v], color='white', lw=.8)
        ov.text(tick_x, yy, str(v).replace('-', minus), fontsize=9.8, ha='left', va='center')
    cb.set_xlim(0, 1); cb.set_ylim(-2.09, 2.09)
    ov.text(*lg_title, 'Group', fontsize=9.8, fontweight='bold', ha='left', va='center')
    for (bx0, by0, bx1, by1), (tx, ty), nm in zip(lg_boxes, lg_text, order):
        ov.add_patch(Rectangle((bx0, by0), bx1 - bx0, by1 - by0, color=NORMAL_C if nm == 'Normal' else DISEASE_C, lw=0))
        ov.text(tx, ty, nm, fontsize=9.8, ha='left', va='center')

# Panel letters
for s, x, y in [('A', 27, 47), ('B', 28, 621.5), ('C', 27, 1190)]:
    ov.text(x, y, s, fontsize=27, fontweight='bold', ha='center', va='center')

volcano((50, 103, 620, 525), (-1.098, 2.275), (-1.03, 22.44), [-1, 0, 1, 2], [0, 5, 10, 15, 20],
        ['\u22121', '0', '1', '2'], 'Volcano Plot \u2212 GSE75010', (334.7, 27), (331, 47),
        (74.5, 221, (304.5, 347.8, 404), (319.6, 362.4, 419)), A_LABELS, (334.7, 549.5), (21, 314.5),
        A_DOWN + A_FRINGE, A_UP, A_STABLE, A_DENSE)
volcano((45.3, 686.8, 620, 1111.4), (-3.755, 5.37), (-.617, 13.22), [-2, 0, 2, 4], [0, 4, 8, 12],
        ['\u22122', '0', '2', '4'], 'Volcano Plot \u2212 GSE10588', (332.2, 610.7), (329, 630.4),
        (658.6, 218.4, (302, 345.7, 402.4), (317.6, 360.4, 417)), B_LABELS, (332, 1136.4), (17, 899),
        B_DOWN, B_UP, B_STABLE, B_DENSE, B_UP_DENSE, B_STABLE_DENSE)
volcano((50.2, 1272.9, 620, 1690), (-.917, 1.497), (-.267, 5.73), [-.5, 0, .5, 1], [0, 2, 4],
        ['\u22120.5', '0.0', '0.5', '1.0'], 'Volcano Plot \u2212 GSE60438', (334.7, 1197.9), (331, 1217),
        (1245, 222.4, (305, 347.8, 403), (319.6, 362.4, 418)), C_LABELS, (334, 1714.6), (27, 1480.7),
        C_DOWN + C_FRINGE, C_UP, C_STABLE, C_DENSE)

heatmap(A_GENES, (A_NORMAL, A_DISEASE), ((0, 77), (77, 157)), A_LEVELS, ('Normal', 'Disease'), A_COUNTS, (786.3, 150, 1092, 532), (127, 146),
        DEND_A, (665, 704), 'Heatmap - GSE75010', (939.3, 109), (1096, 137), 783, (648, 341),
        (1099.6, 261.7), (1099.6, 273.7, 1115.6, 427.7), (277.3, 314.3, 351.3, 388.3, 425), 1118.7,
        (1170, 261), [(1170.5, 273, 1184.5, 287.3), (1170.5, 288, 1184.5, 302)], [(1189, 280.3), (1189, 296)], 'Z-score', '-')

heatmap(B_GENES, (B_ROWS,), ((0, 43),), LEVELS, ('Normal', 'Disease'), B_COUNTS, (781, 722, 1085, 1102), (699, 718),
        DEND_B, (660, 698.5), 'Heatmap - GSE10588', (933, 681.7), (1089, 709), 778, (643, 911.7),
        (1092.6, 833), (1092.6, 845.3, 1108.6, 998), (848.7, 885.7, 922.3, 959, 995.7), 1111.7,
        (1162.7, 832), [(1163, 844, 1177, 859), (1163, 860, 1177, 873)], [(1181.7, 852), (1181.7, 867)], 'Z-score', '-')

heatmap(C_GENES, (C_ROWS,), ((0, 47),), LEVELS, ('Disease', 'Normal'), C_COUNTS, (785.6, 1296, 1088.4, 1674), (1273, 1292),
        DEND_C, (669.3, 707.4), 'Heatmap \u2212 GSE60438', (937, 1255.3), (1092.6, 1283), 782, (653.3, 1485),
        (1095.8, 1406), (1095.8, 1418, 1111.7, 1571), (1421.7, 1458, 1494.7, 1531.3, 1567.7), 1115,
        (1166, 1405), [(1166, 1417, 1180, 1431.7), (1166, 1432.7, 1180, 1446.7)], [(1185, 1425), (1185, 1440)], 'Z\u2212score', '\u2212')

fig.savefig('out.png', dpi=100, facecolor='white')
